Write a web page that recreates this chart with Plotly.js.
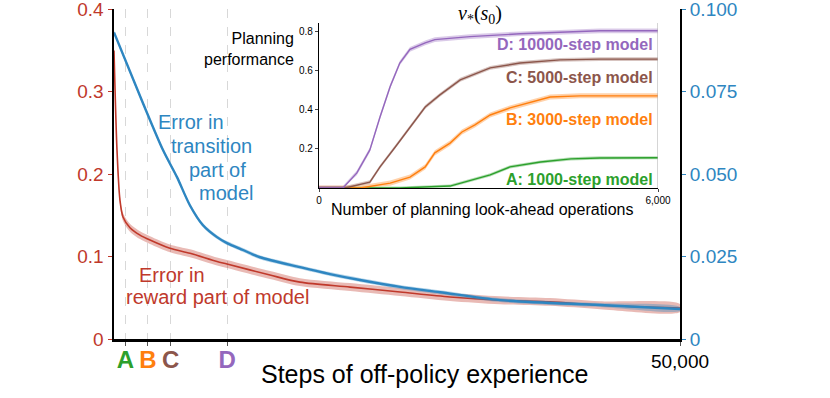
<!DOCTYPE html>
<html>
<head>
<meta charset="utf-8">
<script src="https://cdn.plot.ly/plotly-3.0.1.min.js"></script>
<style>
  body { margin: 0; background: #fff; }
  #plot { width: 830px; height: 398px; }
</style>
</head>
<body>
<div id="plot"></div>
<script>
// ---- main chart: model error vs steps of experience ----
var rewardSteps = [0, 265, 530, 795, 1413, 2297, 3180, 4947, 6714, 9099, 9982, 13780, 16430, 20850, 25270, 29680, 34100, 38520, 42930, 50000];
var rewardErr   = [0.350, 0.229, 0.168, 0.148, 0.135, 0.126, 0.120, 0.110, 0.104, 0.094, 0.091, 0.0776, 0.069, 0.063, 0.057, 0.051, 0.047, 0.045, 0.041, 0.0376];

var transSteps = [0, 2562, 4329, 5565, 6714, 7862, 9099, 9982, 11396, 12898, 16430, 19080, 21730, 25270, 28800, 34100, 42930, 50000];
var transErr   = [0.0930, 0.0715, 0.0573, 0.0491, 0.0405, 0.0345, 0.0309, 0.0291, 0.0270, 0.0248, 0.0218, 0.0197, 0.0179, 0.0158, 0.0142, 0.0118, 0.0103, 0.0091];

var markSteps  = [1000, 3000, 5000, 10000, 50000];
var markLabels = ["A", "B", "C", "D", "50,000"];

// ---- inset: planning performance ----
var opsA  = [0, 1430, 2320, 2670, 3030, 3380, 3920, 4460, 4970, 6000];
var perfA = [0, 0, 0.010, 0.040, 0.067, 0.108, 0.133, 0.149, 0.154, 0.155];
var opsB  = [0, 730, 1260, 1610, 1880, 2050, 2320, 2530, 2760, 3030, 3380, 3740, 4090, 4620, 6000];
var perfB = [0, 0, 0.025, 0.056, 0.108, 0.180, 0.230, 0.287, 0.323, 0.374, 0.410, 0.440, 0.466, 0.472, 0.472];
var opsC  = [0, 460, 900, 1080, 1350, 1610, 1880, 2140, 2500, 3030, 3560, 4270, 4970, 6000];
var perfC = [0, 0, 0.030, 0.108, 0.210, 0.310, 0.415, 0.477, 0.554, 0.615, 0.640, 0.656, 0.660, 0.660];
var opsD  = [0, 425, 670, 900, 1080, 1260, 1430, 1610, 1880, 2050, 2670, 3560, 4970, 6000];
var perfD = [0, 0, 0.077, 0.195, 0.364, 0.520, 0.640, 0.710, 0.743, 0.760, 0.775, 0.790, 0.805, 0.805];

var modelNames = ["A: 1000-step model", "B: 3000-step model", "C: 5000-step model", "D: 10000-step model"];

var red = "#c0392b", blue = "#2e86c1";
var cA = "#2ca02c", cB = "#ff7f0e", cC = "#8c564b", cD = "#9467bd";
var font = "Liberation Sans, Arial, sans-serif";

function band(x, y, half, color, xa, ya, shape) {
  var up = y.map(function (v) { return v + half; });
  var lo = y.map(function (v) { return Math.max(0, v - half); });
  return {
    x: x.concat(x.slice().reverse()),
    y: up.concat(lo.reverse()),
    xaxis: xa, yaxis: ya,
    fill: "toself", fillcolor: color,
    line: { width: 0, shape: shape || "linear", smoothing: 0.8 }, mode: "lines",
    hoverinfo: "skip", showlegend: false
  };
}

function curve(x, y, color, width, xa, ya, shape) {
  return {
    x: x, y: y, xaxis: xa, yaxis: ya,
    mode: "lines", type: "scatter",
    line: { color: color, width: width, shape: shape || "linear", smoothing: 0.8 },
    showlegend: false
  };
}

var traces = [
  band(rewardSteps, rewardErr, 0.0048, "rgba(192,57,43,0.35)", "x", "y", "spline"),
  curve(rewardSteps, rewardErr, red, 1.6, "x", "y", "spline"),
  band(transSteps, transErr, 0.0006, "rgba(46,134,193,0.35)", "x", "y2", "spline"),
  curve(transSteps, transErr, blue, 2.4, "x", "y2", "spline"),

  band(opsA, perfA, 0.008, "rgba(44,160,44,0.35)", "x3", "y3"),
  curve(opsA, perfA, cA, 1.4, "x3", "y3"),
  band(opsB, perfB, 0.013, "rgba(255,127,14,0.35)", "x3", "y3"),
  curve(opsB, perfB, cB, 1.4, "x3", "y3"),
  band(opsC, perfC, 0.010, "rgba(140,86,75,0.35)", "x3", "y3"),
  curve(opsC, perfC, cC, 1.4, "x3", "y3"),
  band(opsD, perfD, 0.012, "rgba(148,103,189,0.35)", "x3", "y3"),
  curve(opsD, perfD, cD, 1.4, "x3", "y3")
];

var tickColors = [cA, cB, cC, cD, "#000"];
var xTickText = markLabels.map(function (t, i) {
  if (i === markLabels.length - 1) return '<span style="color:#000">' + t + '</span>';
  return '<span style="color:' + tickColors[i] + ';font-size:24px"><b>' + t + '</b></span>';
});

// place a text by its centre, in pixels from the top-left corner
function label(px, py, text, size, color, extra) {
  var a = {
    xref: "paper", yref: "paper", x: px / 830, y: 1 - py / 398,
    xanchor: "center", yanchor: "middle",
    text: text, showarrow: false, font: { size: size, color: color }
  };
  for (var k in extra) a[k] = extra[k];
  return a;
}

var layout = {
  width: 830, height: 398,
  margin: { l: 0, r: 0, t: 0, b: 0 },
  paper_bgcolor: "#fff", plot_bgcolor: "#fff",
  font: { family: font, color: "#000" },
  showlegend: false,
  xaxis: {
    domain: [114 / 830, 680 / 830],
    range: [0, 50000],
    tickvals: markSteps, ticktext: xTickText,
    tickfont: { size: 19 },
    ticks: "outside", ticklen: 4, tickcolor: "#555",
    ticklabeloverflow: "allow",
    showgrid: true, gridcolor: "#d8d8d8", griddash: "dash", gridwidth: 1,
    showline: true, linecolor: "#000", linewidth: 2.5,
    zeroline: false
  },
  yaxis: {
    domain: [59 / 398, 389 / 398],
    range: [0, 0.4004],
    tickvals: [0, 0.1, 0.2, 0.3, 0.4], ticktext: ["0", "0.1", "0.2", "0.3", "0.4"],
    tickfont: { size: 19, color: red },
    ticks: "outside", ticklen: 4, tickcolor: red,
    ticklabeloverflow: "allow",
    showgrid: false, zeroline: false,
    showline: true, linecolor: "#000", linewidth: 2.5
  },
  yaxis2: {
    overlaying: "y", side: "right", anchor: "x",
    range: [0, 0.1001],
    tickvals: [0, 0.025, 0.05, 0.075, 0.1], ticktext: ["0", "0.025", "0.050", "0.075", "0.100"],
    tickfont: { size: 19, color: blue },
    ticks: "outside", ticklen: 4, tickcolor: blue,
    ticklabeloverflow: "allow",
    showgrid: false, zeroline: false,
    showline: true, linecolor: "#000", linewidth: 2
  },
  xaxis3: {
    domain: [319 / 830, 658 / 830], anchor: "y3",
    range: [0, 6000],
    tickvals: [0, 6000], ticktext: ["0", "6,000"],
    tickfont: { size: 10 },
    ticks: "outside", ticklen: 3,
    showgrid: false, zeroline: false,
    showline: true, linecolor: "#000", linewidth: 1.2
  },
  yaxis3: {
    domain: [210 / 398, 375 / 398], anchor: "x3",
    range: [0, 0.845],
    tickvals: [0.2, 0.4, 0.6, 0.8], ticktext: ["0.2", "0.4", "0.6", "0.8"],
    tickfont: { size: 10 },
    ticks: "outside", ticklen: 3,
    showgrid: false, zeroline: false,
    showline: true, linecolor: "#000", linewidth: 1.2
  },
  shapes: [
    { type: "line", xref: "x3", yref: "y3", x0: 6000, x1: 6000, y0: 0, y1: 0.845,
      line: { color: "#aaa", width: 1 } }
  ],
  annotations: [
    label(425, 374, "Steps of off-policy experience", 25, "#000"),

    label(191, 122, "Error in", 20, blue),
    label(211, 146, "transition", 20, blue),
    label(217, 170, "part of", 20, blue),
    label(226, 193, "model", 20, blue),

    label(172, 275, "Error in", 20, red),
    label(217, 297, "reward part of model", 20, red),

    label(296, 49, "Planning<br>performance", 16, "#000", { xanchor: "right", align: "right" }),
    label(480, 15, "<i>v</i><sub>*</sub>(<i>s</i><sub>0</sub>)", 20, "#000"),
    label(482, 209, "Number of planning look-ahead operations", 16, "#000"),

    label(655, 44, "<b>" + modelNames[3] + "</b>", 16, cD, { xanchor: "right" }),
    label(655, 78, "<b>" + modelNames[2] + "</b>", 16, cC, { xanchor: "right" }),
    label(655, 120, "<b>" + modelNames[1] + "</b>", 16, cB, { xanchor: "right" }),
    label(655, 180, "<b>" + modelNames[0] + "</b>", 16, cA, { xanchor: "right" })
  ]
};
layout.annotations[8].font.family = "Liberation Serif, DejaVu Serif, serif";

Plotly.newPlot("plot", traces, layout, { displayModeBar: false, staticPlot: true });
</script>
</body>
</html>
